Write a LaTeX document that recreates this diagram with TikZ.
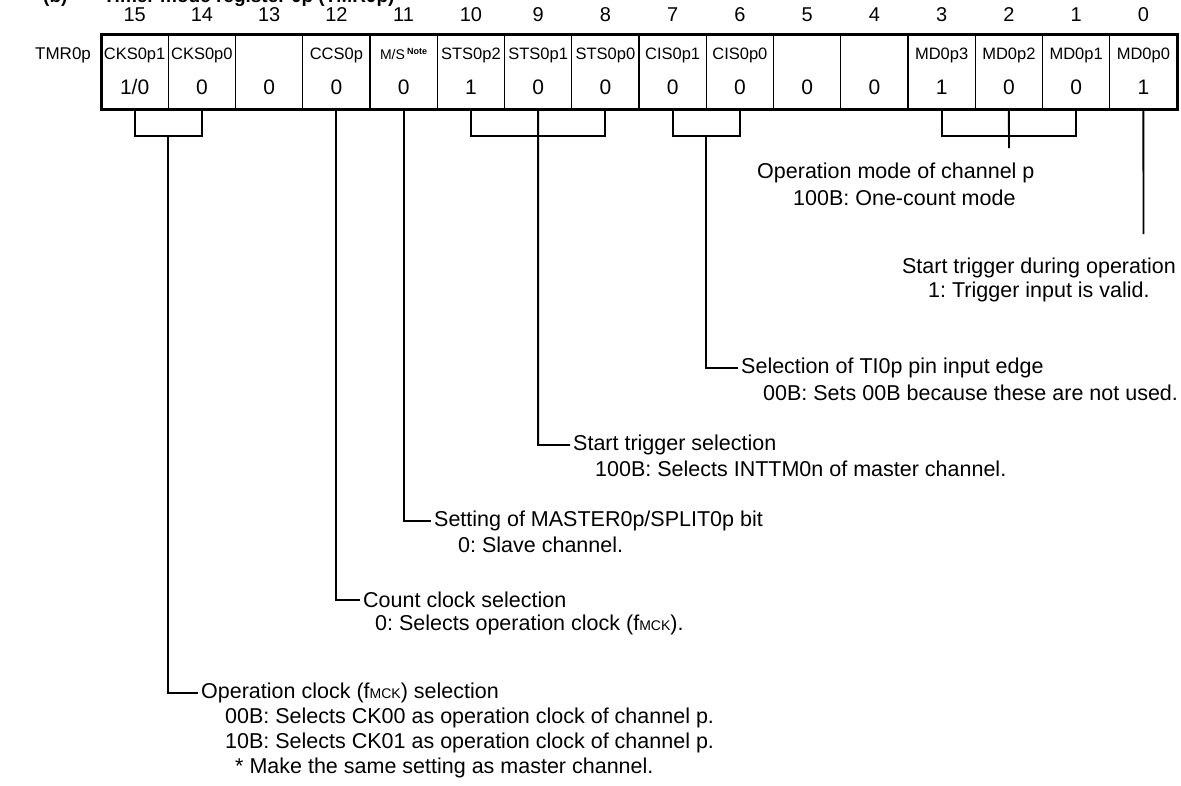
\documentclass[tikz,border=0pt]{standalone}
\usepackage{fontspec}
\setmainfont{Liberation Sans}
\frenchspacing
\usetikzlibrary{calc}
\newcommand\fmck{f{\fontsize{14}{14}\selectfont MCK}}
\newcommand\onezero{1/0}
\newcommand\msnote{{\fontsize{14}{14}\selectfont M/S\,\raisebox{5pt}{\fontsize{9}{9}\selectfont\bfseries Note}}}
\begin{document}
\begin{tikzpicture}[x=1pt,y=-1pt,
  cellbox/.style={draw, line width=1.2pt, minimum width=67.25pt, minimum height=75pt, inner sep=0pt, outer sep=0pt},
  bitno/.style={font=\fontsize{20}{20}\selectfont, inner sep=0pt, anchor=base},
  fname/.style={font=\fontsize{16.5}{16.5}\selectfont, inner sep=0pt, anchor=base},
  fval/.style={font=\fontsize{21}{21}\selectfont, inner sep=0pt, anchor=base},
  desc/.style={font=\fontsize{21.5}{21.5}\selectfont, anchor=west, inner sep=0pt},
  lead/.style={desc, inner xsep=3pt},
  conn/.style={line width=1.8pt}]
\useasboundingbox (0,0) rectangle (1181,785);

\node[anchor=base west, font=\bfseries\fontsize{19}{19}\selectfont, inner sep=0pt] (title) at (43,2) {(b)\hspace{36pt}Timer mode register 0p (TMR0p)};

\node[font=\fontsize{17}{17}\selectfont, anchor=base west, inner sep=0pt] (reg) at (35,59) {TMR0p};

\foreach \b/\nm/\vl in {15/CKS0p1/\onezero, 14/CKS0p0/0, 13//0, 12/CCS0p/0, 11/\msnote/0, 10/STS0p2/1, 9/STS0p1/0, 8/STS0p0/0, 7/CIS0p1/0, 6/CIS0p0/0, 5//0, 4//0, 3/MD0p3/1, 2/MD0p2/0, 1/MD0p1/0, 0/MD0p0/1}{
  \pgfmathsetmacro\cx{101+(15.5-\b)*67.25}
  \node[cellbox] (c\b) at (\cx,71.5) {};
  \node[bitno] (b\b) at (\cx,21) {\b};
  \node[fname] (n\b) at (\cx,59) {\nm};
  \node[fval] (v\b) at (\cx,94.5) {\vl};
}
\draw[line width=3pt] (c15.north west) rectangle (c0.south east);

% bracket coordinates
\coordinate (k15) at (168.2,136);
\coordinate (k9) at (538.1,136);
\coordinate (k6) at (706.2,136);
\coordinate (k2) at (1008.9,136);
\coordinate (k2e) at (1008.9,148);
\coordinate (k0e) at (1143.4,234);

% descriptions
\node[lead] (t15) at (198,693) {Operation clock (\fmck) selection};
\node[desc] (t15a) at (225,718) {00B: Selects CK00 as operation clock of channel p.};
\node[desc] (t15b) at (225,743) {10B: Selects CK01 as operation clock of channel p.};
\node[desc] (t15c) at (235,768) {* Make the same setting as master channel.};

\node[lead] (t12) at (360,600) {Count clock selection};
\node[desc] (t12a) at (375,625) {0: Selects operation clock (\fmck).};

\node[lead] (t11) at (431,521) {Setting of MASTER0p/SPLIT0p bit};
\node[desc] (t11a) at (458,545) {0: Slave channel.};

\node[lead] (t9) at (570,445) {Start trigger selection};
\node[desc] (t9a) at (595,469) {100B: Selects INTTM0n of master channel.};

\node[lead] (t6) at (738,368) {Selection of TI0p pin input edge};
\node[desc] (t6a) at (763,393) {00B: Sets 00B because these are not used.};

\node[desc] (t2) at (757,173) {Operation mode of channel p};
\node[desc] (t2a) at (793,198) {100B: One-count mode};

\node[desc, anchor=east] (t0) at (1176,268) {Start trigger during operation};
\node[desc] (t0a) at (928,292) {1: Trigger input is valid.};

% connectors
\draw[conn] (c15.south) |- (k15) -| (c14.south);
\draw[conn] (k15) |- (t15.west);
\draw[conn] (c12.south) |- (t12.west);
\draw[conn] (c11.south) |- (t11.west);
\draw[conn] (c10.south) |- (k9) -| (c8.south);
\draw[conn] (c9.south) -- (k9) |- (t9.west);
\draw[conn] (c7.south) |- (k6) -| (c6.south);
\draw[conn] (k6) |- (t6.west);
\draw[conn] (c3.south) |- (k2) -| (c1.south);
\draw[conn] (c2.south) -- (k2e);
\draw[conn] (c0.south) -- (k0e);
\end{tikzpicture}
\end{document}
